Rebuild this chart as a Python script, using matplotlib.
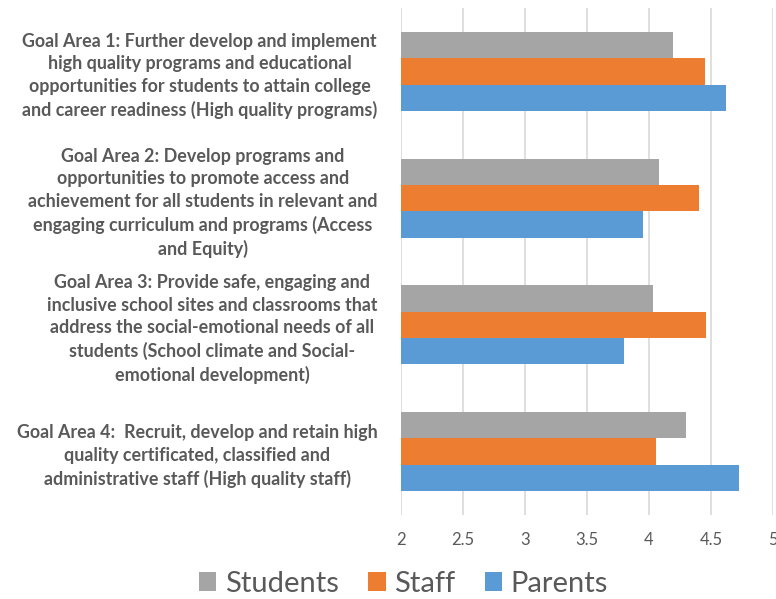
import matplotlib.pyplot as plt
import numpy as np

categories = [
    "Goal Area 1: Further develop and implement\nhigh quality programs and educational\nopportunities for students to attain college\nand career readiness (High quality programs)",
    "Goal Area 2: Develop programs and\nopportunities to promote access and\nachievement for all students in relevant and\nengaging curriculum and programs (Access\nand Equity)",
    "Goal Area 3: Provide safe, engaging and\ninclusive school sites and classrooms that\naddress the social-emotional needs of all\nstudents (School climate and Social-\nemotional development)",
    "Goal Area 4:  Recruit, develop and retain high\nquality certificated, classified and\nadministrative staff (High quality staff)",
]
students = [4.19, 4.08, 4.03, 4.30]
staff = [4.45, 4.40, 4.46, 4.06]
parents = [4.62, 3.95, 3.80, 4.73]
series_names = ["Students", "Staff", "Parents"]
colors = ["#A5A5A5", "#ED7D31", "#5B9BD5"]
xticks = [2, 2.5, 3, 3.5, 4, 4.5, 5]

plt.rcParams['font.family'] = ['Lato', 'DejaVu Sans']
fig = plt.figure(figsize=(7.76, 5.99), dpi=100)
ax = fig.add_axes([0.5168, 0.1402, 0.4793, 0.8464])

y = np.arange(len(categories))
h = 0.208
for i, (vals, name, c) in enumerate(zip([students, staff, parents], series_names, colors)):
    ax.barh(y + (i - 1) * h, np.array(vals) - 2, left=2, height=h, color=c, label=name, zorder=3)

ax.set_xlim(2, 5)
ax.set_ylim(len(categories) - 0.5, -0.5)
ax.set_xticks(xticks)
ax.set_xticklabels([f"{t:g}" for t in xticks], color="#595959", fontsize=12)
ax.set_yticks(y)
ax.set_yticklabels(categories, color="#595959", fontsize=12.9, fontweight='bold', multialignment='center', linespacing=1.39)
ax.tick_params(axis='both', length=0)
ax.tick_params(axis='y', pad=17)
ax.tick_params(axis='x', pad=12)
ax.grid(axis='x', color="#D9D9D9", linewidth=1.2, zorder=0)
for s in ax.spines.values():
    s.set_visible(False)

leg = fig.legend(loc='center', bbox_to_anchor=(0.52, 0.025), ncol=3, frameon=False,
                 fontsize=21, handlelength=0.6, handleheight=0.6, handletextpad=0.3,
                 columnspacing=1.0)
for t in leg.get_texts():
    t.set_color("#595959")

fig.savefig("out.png", dpi=100)
